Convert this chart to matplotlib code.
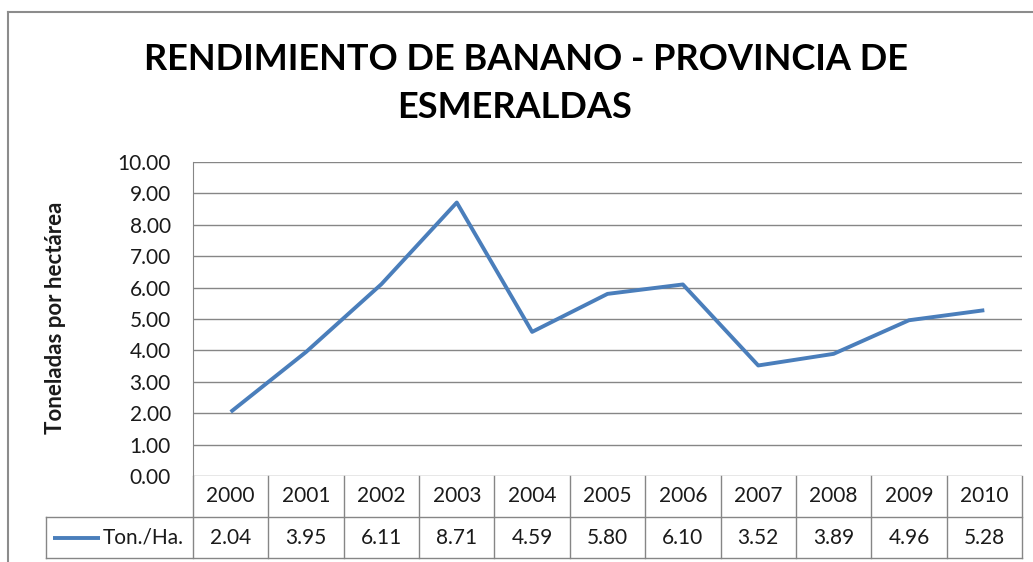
import numpy as np
import matplotlib.pyplot as plt
from matplotlib.lines import Line2D

# datos del grafico
years = ['2000', '2001', '2002', '2003', '2004', '2005', '2006', '2007', '2008', '2009', '2010']
rendimiento = [2.04, 3.95, 6.11, 8.71, 4.59, 5.80, 6.10, 3.52, 3.89, 4.96, 5.28]
serie = 'Ton./Ha.'
y_ticks = np.arange(0, 11, 1)

titulo_1 = 'RENDIMIENTO DE BANANO - PROVINCIA DE'
titulo_2 = 'ESMERALDAS'
y_label = 'Toneladas por hectárea'

plt.rcParams['font.family'] = ['Lato', 'DejaVu Sans']

W, H = 1033, 562
LINE_COLOR = '#4A7EBB'
GRID_COLOR = '#868686'
TEXT_COLOR = '#1a1a1a'


def fx(px):
    return px / W


def fy(py):
    return 1 - py / H


fig = plt.figure(figsize=(W / 100, H / 100), dpi=100)

# area del grafico
left, right, top, bottom = 193, 1022, 162, 476
ax = fig.add_axes([fx(left), fy(bottom), fx(right) - fx(left), fy(top) - fy(bottom)])
x = np.arange(len(years))
ax.plot(x, rendimiento, color=LINE_COLOR, lw=2.8, solid_capstyle='butt')
ax.set_xlim(-0.5, len(years) - 0.5)
ax.set_ylim(0, 10)
ax.set_yticks(y_ticks)
ax.set_yticklabels([f'{v:.2f}' for v in y_ticks])
ax.set_xticks([])
ax.yaxis.grid(True, color=GRID_COLOR, lw=1)
ax.set_axisbelow(True)
ax.tick_params(axis='y', length=0, pad=16, labelsize=15, labelcolor=TEXT_COLOR)
for s in ['top', 'right', 'bottom']:
    ax.spines[s].set_visible(False)
ax.spines['left'].set_color(GRID_COLOR)

# tabla de datos debajo del grafico
px_unit = (right - left) / len(years)
tab_left, tab_bottom = 46, 558


def u(px):
    return -0.5 + (px - left) / px_unit


tab = fig.add_axes([fx(tab_left), fy(tab_bottom), fx(right) - fx(tab_left), fy(bottom) - fy(tab_bottom)])
tab.set_xlim(u(tab_left), len(years) - 0.5)
tab.set_ylim(0, 2)
tab.axis('off')

lkw = dict(color=GRID_COLOR, lw=1, clip_on=False)
tab.plot([u(tab_left), len(years) - 0.5], [0, 0], **lkw)
tab.plot([u(tab_left), len(years) - 0.5], [1, 1], **lkw)
tab.plot([u(tab_left), u(tab_left)], [0, 1], **lkw)
for k in range(len(years) + 1):
    tab.plot([k - 0.5, k - 0.5], [0, 2], **lkw)

for i, (yr, val) in enumerate(zip(years, rendimiento)):
    tab.text(i, 1.5, yr, ha='center', va='center', fontsize=15, color=TEXT_COLOR)
    tab.text(i, 0.5, f'{val:.2f}', ha='center', va='center', fontsize=15, color=TEXT_COLOR)

tab.plot([u(53), u(100)], [0.5, 0.5], color=LINE_COLOR, lw=2.8, solid_capstyle='butt')
tab.text(u(103), 0.5, serie, ha='left', va='center', fontsize=15, color=TEXT_COLOR)

# titulo y etiqueta del eje
fig.text(fx(526), fy(70), titulo_1, ha='center', va='baseline',
         fontsize=26, fontweight='bold', color='black')
fig.text(fx(515), fy(118), titulo_2, ha='center', va='baseline',
         fontsize=26, fontweight='bold', color='black')
fig.text(fx(55), fy(318), y_label, rotation=90, ha='center', va='center',
         fontsize=16, fontweight='bold', color=TEXT_COLOR)

# borde del area del grafico
fig.add_artist(Line2D([fx(8), fx(8)], [0, fy(12)], color='#8c8c8c', lw=1.5))
fig.add_artist(Line2D([fx(8), 1], [fy(12), fy(12)], color='#8c8c8c', lw=1.5))

fig.savefig('out.png', dpi=100)
